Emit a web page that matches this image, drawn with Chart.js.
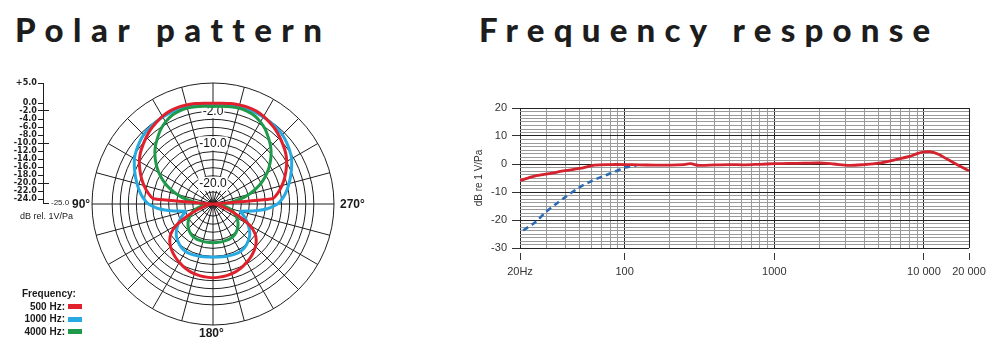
<!DOCTYPE html>
<html>
<head>
<meta charset="utf-8">
<script src="https://cdn.jsdelivr.net/npm/chart.js@4.4.1/dist/chart.umd.min.js"></script>
<style>
  html, body { margin: 0; padding: 0; background: #fff; }
  body { width: 1003px; height: 356px; position: relative; overflow: hidden;
         font-family: 'Liberation Sans', Arial, sans-serif; color: #1a1a1a; }
  .title { position: absolute; top: 9px; font-family: Lato, 'Open Sans', sans-serif; font-weight: 900;
           font-size: 33px; line-height: 40px; letter-spacing: 9.5px; color: #1d1d1d; white-space: nowrap; }
  canvas { position: absolute; }
  .deg { position: absolute; font-weight: bold; font-size: 12px; line-height: 14px; white-space: nowrap; }
  #unit { position: absolute; left: 20px; top: 211px; font-size: 9px; line-height: 11px; }
  #legend { position: absolute; left: 22px; top: 288px; font-weight: bold; font-size: 10px; line-height: 12.5px; }
  #legend .row { display: flex; align-items: center; }
  #legend .row span { display: inline-block; width: 43px; text-align: right; }
  #legend .row i { display: inline-block; width: 14px; height: 5px; margin-left: 3px; }
</style>
</head>
<body>
<div class="title" style="left:15px">Polar pattern</div>
<div class="title" style="left:479px;letter-spacing:9.2px">Frequency response</div>

<canvas id="pd-scale" width="79" height="145" style="left:0;top:70px"></canvas>
<div id="unit">dB rel. 1V/Pa</div>
<canvas id="pd-polar" width="256" height="256" style="left:85px;top:76px"></canvas>
<div class="deg" style="left:72px;top:197px">90°</div>
<div class="deg" style="left:340px;top:197px">270°</div>
<div class="deg" style="left:199px;top:326px">180°</div>
<div id="legend"><div>Frequency:</div></div>

<canvas id="pd-freq" width="533" height="195" style="left:470px;top:95px"></canvas>

<script>
  // --- polar pattern (angles counter-clockwise from the top, as printed) ---
  const polarAngles = [0, 5, 10, 15, 20, 25, 30, 35, 40, 45, 50, 55, 60, 65, 70, 75, 80, 85,
    90, 95, 100, 105, 110, 115, 120, 125, 130, 135, 140, 145, 150, 155, 160, 165, 170, 175,
    180, 185, 190, 195, 200, 205, 210, 215, 220, 225, 230, 235, 240, 245, 250, 255, 260, 265,
    270, 275, 280, 285, 290, 295, 300, 305, 310, 315, 320, 325, 330, 335, 340, 345, 350, 355];
  const polar500 = [0, 0.1, 0.3, 0.4, 0.5, 0.4, 0.1, -0.4, -0.9, -1.6, -2.3, -3.0, -3.9, -5.0, -6.1, -7.3, -8.6, -10.2,
    -25, -24.5, -24, -23, -21, -18, -14.5, -12.3, -11, -10.1, -9.4, -8.8, -8.3, -7.8, -7.4, -7.1, -6.9, -6.8,
    -6.7, -6.8, -6.9, -7.1, -7.4, -7.8, -8.3, -8.8, -9.4, -10.1, -11, -12.3, -14.5, -18, -21, -23, -24, -24.5,
    -25, -10.2, -8.6, -7.3, -6.1, -5.0, -3.9, -3.0, -2.3, -1.6, -0.9, -0.4, 0.1, 0.4, 0.5, 0.4, 0.3, 0.1];
  const polar1000 = [-0.5, -0.4, -0.3, -0.2, -0.1, 0, -0.1, -0.2, -0.4, -0.7, -1.2, -1.8, -2.5, -3.5, -4.5, -5.5, -6.5, -7.6,
    -9.0, -11.5, -15, -18, -17, -16, -15, -14, -13.1, -12.5, -12, -11.6, -11.4, -11.4, -11.5, -11.6, -11.7, -11.8,
    -11.8, -11.8, -11.7, -11.6, -11.5, -11.4, -11.4, -11.6, -12, -12.5, -13.1, -14, -15, -16, -17, -18, -15, -11.5,
    -9.0, -7.6, -6.5, -5.5, -4.5, -3.5, -2.5, -1.8, -1.2, -0.7, -0.4, -0.2, -0.1, 0, -0.1, -0.2, -0.3, -0.4];
  const polar4000 = [-0.8, -0.7, -0.5, -0.4, -0.5, -0.8, -1.5, -2.4, -3.6, -4.8, -6.2, -7.8, -9.5, -11.4, -13.5, -15.8, -18.2, -21,
    -23.5, -24, -22.5, -21, -19.8, -19, -18.2, -17.5, -16.9, -16.4, -16, -15.7, -15.5, -15.4, -15.4, -15.4, -15.4, -15.4,
    -15.4, -15.4, -15.4, -15.4, -15.4, -15.4, -15.5, -15.7, -16, -16.4, -16.9, -17.5, -18.2, -19, -19.8, -21, -22.5, -24,
    -23.5, -21, -18.2, -15.8, -13.5, -11.4, -9.5, -7.8, -6.2, -4.8, -3.6, -2.4, -1.5, -0.8, -0.5, -0.4, -0.5, -0.7];
  const ringTicks = [-25, -24, -22, -20, -18, -16, -14, -12, -10, -8, -6, -4, -2, 0, 5];
  const ringLabels = [-2, -10, -20];
  const scaleTicks = [5, 0, -2, -4, -6, -8, -10, -12, -14, -16, -18, -20, -22, -24, -25];
  const scaleMajor = [-2, -10, -20];

  // --- frequency response ---
  const freqGrid = [20, 30, 40, 50, 60, 70, 80, 90, 100, 200, 300, 400, 500, 600, 700, 800, 900,
    1000, 2000, 3000, 4000, 5000, 6000, 7000, 8000, 9000, 10000, 20000];
  const freqLabelled = [20, 100, 1000, 10000, 20000];
  const freqLabels = ['20Hz', '100', '1000', '10 000', '20 000'];
  const dbLabelled = [20, 10, 0, -10, -20, -30];
  const frontFreq = [20, 25, 31.5, 40, 50, 63, 80, 100, 125, 160, 200, 250, 275, 315, 400, 500, 630, 800,
    1000, 1250, 1600, 2000, 2500, 3150, 4000, 5000, 6300, 8000, 9000, 10000, 11000, 12500, 14000, 16000, 18000, 20000];
  const frontDb = [-5.9, -4.3, -3.4, -2.4, -1.6, -0.4, -0.2, -0.2, -0.3, -0.4, -0.4, -0.2, 0.1, -0.5, -0.3, -0.2, -0.3, -0.1,
    0.1, 0.2, 0.3, 0.4, 0, -0.5, -0.2, 0.3, 1.4, 2.7, 3.7, 4.3, 4.4, 3.5, 2, 0.3, -1.2, -2.4];
  const lowcutFreq = [21, 25, 30, 35, 40, 50, 60, 70, 80, 90, 100, 110, 120];
  const lowcutDb = [-23.7, -21, -17, -14.2, -11.9, -8.3, -6.1, -4.6, -3.4, -2.3, -1.3, -0.8, -0.5];

  const polarSeries = [
    { name: '500 Hz', data: polar500, color: '#e0202b' },
    { name: '1000 Hz', data: polar1000, color: '#27a9e1' },
    { name: '4000 Hz', data: polar4000, color: '#1e9a4a' },
  ];
  const INK = '#1e1e1e';
  const NONE = 'rgba(0,0,0,0)';

  (function () {
    // legend
    const lg = document.getElementById('legend');
    polarSeries.forEach(function (s) {
      const row = document.createElement('div');
      row.className = 'row';
      row.innerHTML = '<span>' + s.name + ':</span><i style="background:' + s.color + '"></i>';
      lg.appendChild(row);
    });

    // dB scale at the left
    new Chart(document.getElementById('pd-scale'), {
      type: 'line',
      data: { labels: [], datasets: [] },
      options: {
        responsive: false,
        animation: false,
        layout: { padding: { top: 13, bottom: 12, left: 0, right: 0 } },
        plugins: { legend: { display: false }, tooltip: { enabled: false } },
        scales: {
          x: { display: false },
          y: {
            min: -25, max: 5,
            afterBuildTicks: function (s) { s.ticks = scaleTicks.map(function (v) { return { value: v }; }); },
            afterFit: function (s) { s.width = 43; },
            border: { display: true, color: INK, width: 1 },
            grid: {
              drawOnChartArea: true,
              lineWidth: 1,
              tickLength: 5,
              color: function (c) {
                return c.tick && (scaleMajor.includes(c.tick.value) || c.tick.value === -25) ? INK : NONE;
              },
              tickColor: function (c) { return c.tick && c.tick.value === -25 ? NONE : INK; },
            },
            ticks: {
              autoSkip: false,
              padding: 1,
              color: INK,
              font: { family: "'Liberation Sans Narrow', 'DejaVu Sans Condensed', 'Liberation Sans', sans-serif", size: 9, weight: 'bold' },
              callback: function (v) { return v === -25 ? '' : (v > 0 ? '+' : '') + v.toFixed(1); },
            },
          },
          y2: {
            position: 'right',
            min: -25, max: 5,
            afterBuildTicks: function (s) { s.ticks = [{ value: -25 }]; },
            afterFit: function (s) { s.width = 30; },
            border: { display: false },
            grid: { display: false, drawTicks: false },
            ticks: { padding: 2, color: INK, font: { size: 8 }, callback: function (v) { return v.toFixed(1); } },
          },
        },
      },
    });

    // polar pattern: radar goes clockwise, the printed angles go counter-clockwise
    const n = polarAngles.length;
    const order = polarAngles.map(function (a, i) { return (n - i) % n; });
    new Chart(document.getElementById('pd-polar'), {
      type: 'radar',
      data: {
        labels: order.map(function (k) { return polarAngles[k] + '°'; }),
        datasets: [polarSeries[0], polarSeries[2], polarSeries[1]].map(function (s) {
          return {
            label: s.name,
            data: order.map(function (k) { return s.data[k]; }),
            borderColor: s.color,
            backgroundColor: s.color,
            borderWidth: 3,
            pointRadius: 0,
            fill: false,
            tension: 0.15,
          };
        }),
      },
      options: {
        responsive: false,
        animation: false,
        layout: { padding: 0 },
        plugins: { legend: { display: false }, tooltip: { enabled: false } },
        scales: {
          r: {
            min: -25, max: 5,
            afterBuildTicks: function (s) { s.ticks = ringTicks.map(function (v) { return { value: v }; }); },
            grid: { circular: true, color: INK, lineWidth: 1 },
            angleLines: {
              display: true, lineWidth: 1,
              color: function (c) { return c.index % 3 === 0 ? INK : NONE; },
            },
            pointLabels: { display: false },
            ticks: {
              display: true,
              autoSkip: false,
              color: '#111',
              font: { size: 12 },
              backdropColor: '#fff',
              backdropPadding: 1,
              showLabelBackdrop: function (c) { return !!c.tick && ringLabels.includes(c.tick.value); },
              callback: function (v) { return ringLabels.includes(v) ? v.toFixed(1) : ''; },
            },
          },
        },
      },
    });

    // frequency response
    new Chart(document.getElementById('pd-freq'), {
      type: 'line',
      data: {
        datasets: [
          {
            label: 'front',
            data: frontFreq.map(function (f, i) { return { x: f, y: frontDb[i] }; }),
            borderColor: '#d4232e',
            borderWidth: 2.8,
            pointRadius: 0,
            tension: 0.3,
          },
          {
            label: 'low cut',
            data: lowcutFreq.map(function (f, i) { return { x: f, y: lowcutDb[i] }; }),
            borderColor: '#2c6bb3',
            borderWidth: 2.6,
            borderDash: [6, 4],
            pointRadius: 0,
            tension: 0.3,
          },
        ],
      },
      options: {
        responsive: false,
        animation: false,
        layout: { padding: { top: 13, right: 34, left: 0, bottom: 0 } },
        plugins: { legend: { display: false }, tooltip: { enabled: false } },
        scales: {
          x: {
            type: 'logarithmic',
            min: 20, max: 20000,
            afterBuildTicks: function (s) { s.ticks = freqGrid.map(function (v) { return { value: v }; }); },
            afterFit: function (s) { s.height = 42; },
            border: { display: false },
            grid: {
              lineWidth: 1,
              color: function (c) { return c.tick && freqLabelled.includes(c.tick.value) ? '#222' : '#9a9a9a'; },
              tickColor: function (c) { return c.tick && freqLabelled.includes(c.tick.value) ? '#333' : NONE; },
              tickLength: 12,
              tickBorderDash: [7, 5],
              tickBorderDashOffset: 7,
            },
            ticks: {
              autoSkip: false,
              maxRotation: 0,
              padding: 5,
              color: '#333',
              font: { size: 11 },
              callback: function (v) {
                const i = freqLabelled.indexOf(v);
                return i >= 0 ? freqLabels[i] : '';
              },
            },
          },
          y: {
            min: -30, max: 20,
            afterBuildTicks: function (s) {
              const t = [];
              for (let v = -30; v <= 20; v += 1.25) t.push({ value: v });
              s.ticks = t;
            },
            afterFit: function (s) { s.width = 50; },
            border: { display: false },
            grid: {
              lineWidth: 1,
              color: function (c) { return c.tick && dbLabelled.includes(c.tick.value) ? '#222' : '#9a9a9a'; },
              tickColor: function (c) { return c.tick && dbLabelled.includes(c.tick.value) ? '#333' : NONE; },
              tickLength: 10,
              tickBorderDash: [8, 2],
              tickBorderDashOffset: 8,
            },
            title: { display: true, text: 'dB re 1 V/Pa', color: '#333', font: { size: 10 }, padding: 3 },
            ticks: {
              autoSkip: false,
              padding: 3,
              color: '#333',
              font: { size: 11 },
              callback: function (v) { return dbLabelled.includes(v) ? String(v) : ''; },
            },
          },
        },
      },
    });
  })();
</script>
</body>
</html>
